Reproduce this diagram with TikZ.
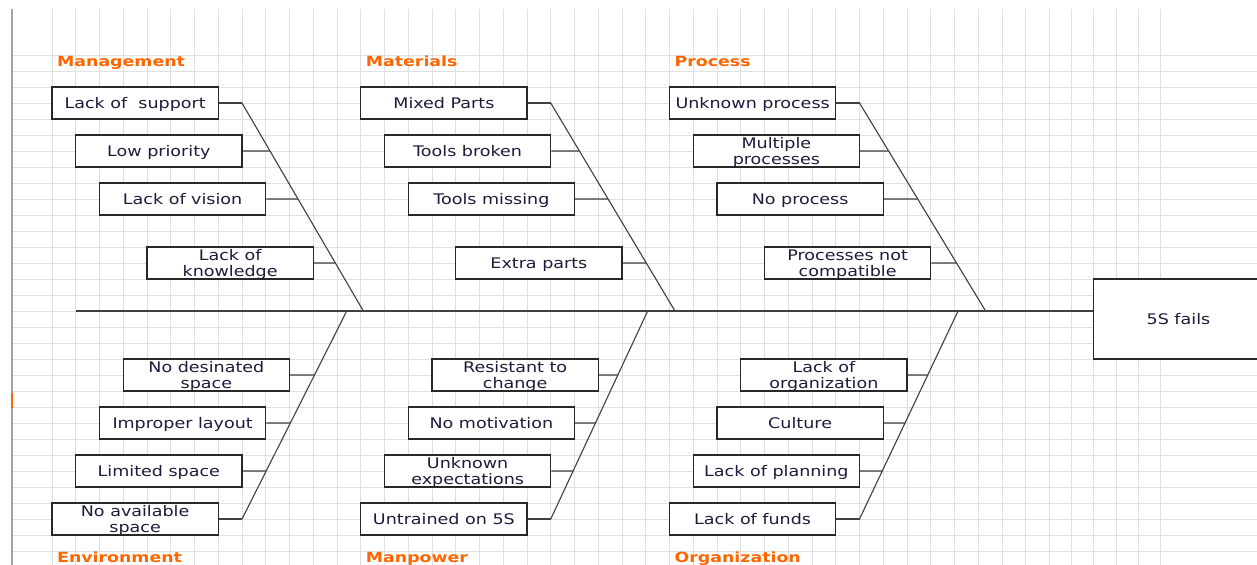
\documentclass[tikz,border=0pt]{standalone}
\usepackage{fontspec}
\usetikzlibrary{calc}
\newfontfamily\causefont[FakeStretch=1.2]{DejaVu Sans}
\newfontfamily\groupfont[FakeStretch=1.24]{DejaVu Sans}
\definecolor{grpcol}{RGB}{255,102,0}
\definecolor{txtcol}{RGB}{28,28,60}
\definecolor{gridcol}{RGB}{224,224,224}
\definecolor{edgecol}{RGB}{165,165,165}
\definecolor{bonecol}{RGB}{64,64,64}
\definecolor{boxcol}{RGB}{40,40,40}

\begin{document}
\begin{tikzpicture}[x=11.875pt,y=-8pt]
	\tikzstyle{gridln}=[gridcol,line width=0.5pt]
	\tikzstyle{bone}=[bonecol,line width=0.55pt]
	\tikzstyle{cause}=[draw=boxcol,line width=0.55pt,fill=white,minimum width=83.125pt,minimum height=16pt,inner sep=0pt,align=center,text depth=0pt,text=txtcol,font=\causefont\fontsize{7.3}{8}\selectfont]
	\tikzstyle{group}=[anchor=base west,inner sep=0pt,text=grpcol,font=\groupfont\bfseries\fontsize{7}{8}\selectfont]
	\useasboundingbox[fill=white] (-2.1895,-3.4375) rectangle (50.737,31.8125);
	% sheet grid
	\foreach \k in {0,...,42} \draw[gridln] (\k,-2.875) -- (\k,31.9);
	\foreach \k in {43,...,47} \draw[gridln] ({42+0.9347*(\k-42)},-2.875) -- ({42+0.9347*(\k-42)},31.9);
	\foreach \j in {0,...,31} \draw[gridln] (-1.684,\j) -- (51,\j);
	\draw[edgecol,line width=0.6pt] (-1.684,-2.875) -- (-1.684,31.9);
	\draw[grpcol,line width=1pt] (-1.684,21.1) -- (-1.684,22.05);
	% group titles
	\node[group] (gmg) at (0.2,0.69) {Management};
	\node[group] (gmt) at (13.2,0.69) {Materials};
	\node[group] (gpr) at (26.2,0.69) {Process};
	\node[group] (gen) at (0.2,31.73) {Environment};
	\node[group] (gmn) at (13.2,31.73) {Manpower};
	\node[group] (gog) at (26.2,31.73) {Organization};
	% head
	\node[draw=boxcol,line width=0.55pt,fill=white,minimum width=84.7pt,minimum height=40pt,inner sep=0pt,text depth=0pt,text=txtcol,font=\causefont\fontsize{7.3}{8}\selectfont] (fs) at (47.43,16.5) {5S fails};
	\coordinate (tail) at (1,16);
	\draw[bone] (tail) -- (tail -| fs.west);
	% bones
	\coordinate (mgA) at (8,3);
	\coordinate (mgB) at (13.11,16);
	\coordinate (mtA) at (21,3);
	\coordinate (mtB) at (26.23,16);
	\coordinate (prA) at (34,3);
	\coordinate (prB) at (39.31,16);
	\coordinate (enA) at (12.41,16);
	\coordinate (enB) at (8,29);
	\coordinate (mnA) at (25.08,16);
	\coordinate (mnB) at (21,29);
	\coordinate (ogA) at (38.15,16);
	\coordinate (ogB) at (34,29);
	\draw[bone] (mgA) -- (mgB);
	\draw[bone] (mtA) -- (mtB);
	\draw[bone] (prA) -- (prB);
	\draw[bone] (enA) -- (enB);
	\draw[bone] (mnA) -- (mnB);
	\draw[bone] (ogA) -- (ogB);
	% Management
	\node[cause] (ms) at (3.5,3) {Lack of\ \ support};
	\node[cause] (lp) at (4.5,6) {Low priority};
	\node[cause] (lv) at (5.5,9) {Lack of vision};
	\node[cause] (lk) at (7.5,13) {Lack of\\knowledge};
	\draw[bone] (ms.east) -- (mgA);
	\draw[bone] (lp.east) -- ($(mgA)!0.2308!(mgB)$);
	\draw[bone] (lv.east) -- ($(mgA)!0.4615!(mgB)$);
	\draw[bone] (lk.east) -- ($(mgA)!0.7692!(mgB)$);
	% Materials
	\node[cause] (mx) at (16.5,3) {Mixed Parts};
	\node[cause] (tb) at (17.5,6) {Tools broken};
	\node[cause] (tm) at (18.5,9) {Tools missing};
	\node[cause] (ep) at (20.5,13) {Extra parts};
	\draw[bone] (mx.east) -- (mtA);
	\draw[bone] (tb.east) -- ($(mtA)!0.2308!(mtB)$);
	\draw[bone] (tm.east) -- ($(mtA)!0.4615!(mtB)$);
	\draw[bone] (ep.east) -- ($(mtA)!0.7692!(mtB)$);
	% Process
	\node[cause] (up) at (29.5,3) {Unknown process};
	\node[cause] (mp) at (30.5,6) {Multiple\\processes};
	\node[cause] (np) at (31.5,9) {No process};
	\node[cause] (pc) at (33.5,13) {Processes not\\compatible};
	\draw[bone] (up.east) -- (prA);
	\draw[bone] (mp.east) -- ($(prA)!0.2308!(prB)$);
	\draw[bone] (np.east) -- ($(prA)!0.4615!(prB)$);
	\draw[bone] (pc.east) -- ($(prA)!0.7692!(prB)$);
	% Environment
	\node[cause] (nd) at (6.5,20) {No desinated\\space};
	\node[cause] (il) at (5.5,23) {Improper layout};
	\node[cause] (ls) at (4.5,26) {Limited space};
	\node[cause] (na) at (3.5,29) {No available\\space};
	\draw[bone] (nd.east) -- ($(enA)!0.3077!(enB)$);
	\draw[bone] (il.east) -- ($(enA)!0.5385!(enB)$);
	\draw[bone] (ls.east) -- ($(enA)!0.7692!(enB)$);
	\draw[bone] (na.east) -- (enB);
	% Manpower
	\node[cause] (rc) at (19.5,20) {Resistant to\\change};
	\node[cause] (nm) at (18.5,23) {No motivation};
	\node[cause] (ue) at (17.5,26) {Unknown\\expectations};
	\node[cause] (ut) at (16.5,29) {Untrained on 5S};
	\draw[bone] (rc.east) -- ($(mnA)!0.3077!(mnB)$);
	\draw[bone] (nm.east) -- ($(mnA)!0.5385!(mnB)$);
	\draw[bone] (ue.east) -- ($(mnA)!0.7692!(mnB)$);
	\draw[bone] (ut.east) -- (mnB);
	% Organization
	\node[cause] (lo) at (32.5,20) {Lack of\\organization};
	\node[cause] (cu) at (31.5,23) {Culture};
	\node[cause] (lpl) at (30.5,26) {Lack of planning};
	\node[cause] (lf) at (29.5,29) {Lack of funds};
	\draw[bone] (lo.east) -- ($(ogA)!0.3077!(ogB)$);
	\draw[bone] (cu.east) -- ($(ogA)!0.5385!(ogB)$);
	\draw[bone] (lpl.east) -- ($(ogA)!0.7692!(ogB)$);
	\draw[bone] (lf.east) -- (ogB);
\end{tikzpicture}
\end{document}
